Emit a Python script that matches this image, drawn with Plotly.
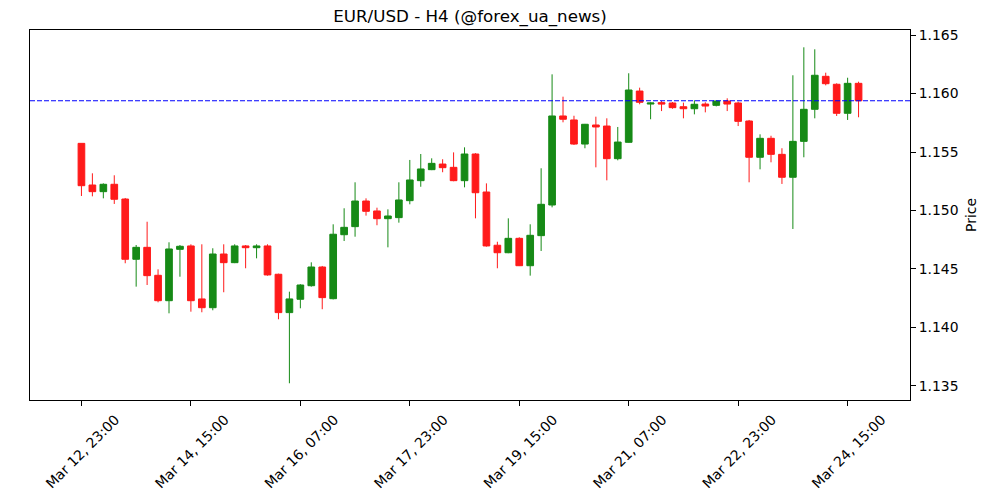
import pandas as pd
import plotly.graph_objects as go

title = "EUR/USD - H4 (@forex_ua_news)"
start_time = "2025-03-12 23:00"
n_candles = 72

open_ = [1.15574, 1.15218, 1.15161, 1.15224, 1.15098, 1.14583, 1.14685, 1.14446, 1.14229, 1.14668,
         1.14697, 1.14244, 1.14169, 1.14628, 1.14554, 1.14697, 1.14682, 1.14697, 1.14455, 1.14127,
         1.14241, 1.14357, 1.14517, 1.14246, 1.14793, 1.14862, 1.15081, 1.14996, 1.14930, 1.14939,
         1.15084, 1.15255, 1.15349, 1.15397, 1.15369, 1.15255, 1.15483, 1.15158, 1.14703, 1.14639,
         1.14762, 1.14528, 1.14785, 1.15047, 1.15808, 1.15774, 1.15568, 1.15731, 1.15722, 1.15443,
         1.15583, 1.16021, 1.15910, 1.15922, 1.15919, 1.15887, 1.15870, 1.15910, 1.15899, 1.15936,
         1.15919, 1.15765, 1.15455, 1.15617, 1.15480, 1.15284, 1.15591, 1.15865, 1.16147, 1.16079,
         1.15831, 1.16087]

high = [1.15574, 1.15318, 1.15232, 1.15301, 1.15107, 1.14705, 1.14904, 1.14497, 1.14728, 1.14705,
        1.14711, 1.14711, 1.14677, 1.14711, 1.14711, 1.14705, 1.14711, 1.14711, 1.14460, 1.14306,
        1.14370, 1.14557, 1.14526, 1.14882, 1.15019, 1.15241, 1.15104, 1.15024, 1.15010, 1.15241,
        1.15432, 1.15483, 1.15446, 1.15438, 1.15497, 1.15540, 1.15490, 1.15232, 1.14733, 1.14933,
        1.14771, 1.14882, 1.15361, 1.16164, 1.15973, 1.15810, 1.15740, 1.15802, 1.15788, 1.15714,
        1.16173, 1.16050, 1.15925, 1.15936, 1.15927, 1.15922, 1.15942, 1.15925, 1.15940, 1.15959,
        1.15930, 1.15774, 1.15651, 1.15639, 1.15532, 1.16156, 1.16395, 1.16378, 1.16178, 1.16087,
        1.16135, 1.16101]

low = [1.15124, 1.15121, 1.15104, 1.15056, 1.14549, 1.14349, 1.14363, 1.14215, 1.14121, 1.14434,
       1.14135, 1.14130, 1.14147, 1.14301, 1.14550, 1.14506, 1.14591, 1.14443, 1.14070, 1.13523,
       1.14164, 1.14349, 1.14156, 1.14240, 1.14739, 1.14776, 1.14956, 1.14874, 1.14685, 1.14896,
       1.15053, 1.15203, 1.15345, 1.15327, 1.15250, 1.15198, 1.14933, 1.14691, 1.14506, 1.14635,
       1.14525, 1.14443, 1.14654, 1.15027, 1.15754, 1.15560, 1.15532, 1.15369, 1.15258, 1.15429,
       1.15580, 1.15908, 1.15780, 1.15850, 1.15870, 1.15788, 1.15822, 1.15839, 1.15890, 1.15850,
       1.15722, 1.15241, 1.15352, 1.15412, 1.15227, 1.14842, 1.15455, 1.15788, 1.16070, 1.15808,
       1.15774, 1.15797]

close = [1.15212, 1.15161, 1.15224, 1.15096, 1.14583, 1.14685, 1.14443, 1.14229, 1.14671, 1.14694,
         1.14229, 1.14169, 1.14628, 1.14554, 1.14697, 1.14682, 1.14697, 1.14449, 1.14127, 1.14244,
         1.14363, 1.14517, 1.14255, 1.14797, 1.14856, 1.15081, 1.14993, 1.14930, 1.14953, 1.15090,
         1.15261, 1.15355, 1.15403, 1.15366, 1.15255, 1.15483, 1.15152, 1.14697, 1.14639, 1.14762,
         1.14528, 1.14788, 1.15053, 1.15808, 1.15780, 1.15568, 1.15737, 1.15714, 1.15443, 1.15585,
         1.16030, 1.15925, 1.15919, 1.15910, 1.15879, 1.15870, 1.15908, 1.15893, 1.15936, 1.15910,
         1.15762, 1.15455, 1.15617, 1.15480, 1.15284, 1.15591, 1.15865, 1.16156, 1.16084, 1.15831,
         1.16087, 1.15938]

tick_labels = ["Mar 12, 23:00", "Mar 14, 15:00", "Mar 16, 07:00", "Mar 17, 23:00",
               "Mar 19, 15:00", "Mar 21, 07:00", "Mar 22, 23:00", "Mar 24, 15:00"]
y_ticks = [1.135, 1.140, 1.145, 1.150, 1.155, 1.160, 1.165]

times = pd.date_range(start_time, periods=n_candles, freq="4h")
tick_vals = [times[i] for i in range(0, n_candles, 10)][:len(tick_labels)]

GREEN = "#168a16"
RED = "#ff1a1a"
FONT = "DejaVu Sans"

fig = go.Figure()
fig.add_trace(go.Candlestick(
    x=times, open=open_, high=high, low=low, close=close,
    increasing=dict(line=dict(color=GREEN, width=1), fillcolor=GREEN),
    decreasing=dict(line=dict(color=RED, width=1), fillcolor=RED),
    whiskerwidth=0,
    showlegend=False,
))

last_close = close[-1]
fig.add_shape(type="line", xref="paper", x0=0, x1=1, yref="y", y0=last_close, y1=last_close,
              line=dict(color="#0000ff", width=1.1, dash="5px,2px"))

x0 = times[0] - pd.Timedelta(hours=18.8)
x1 = times[0] + pd.Timedelta(hours=302.8)

fig.update_layout(
    width=1000, height=500,
    margin=dict(l=30, r=90, t=30, b=100, pad=0, autoexpand=False),
    paper_bgcolor="white", plot_bgcolor="white",
    font=dict(family=FONT, size=14, color="black"),
    title=dict(text=title, x=0.5, xref="paper", xanchor="center",
               y=1 - 16 / 500, yref="container", yanchor="middle",
               font=dict(family=FONT, size=16.7, color="black")),
    boxgap=0.39, boxgroupgap=0,
    xaxis=dict(
        type="date", range=[x0, x1], automargin=False,
        rangeslider=dict(visible=False),
        tickmode="array", tickvals=tick_vals, ticktext=tick_labels,
        tickangle=-45, ticklabelshift=34,
        ticks="outside", ticklen=5, tickwidth=1, tickcolor="black",
        showgrid=False, zeroline=False,
        showline=True, linecolor="black", linewidth=1, mirror=True,
        tickfont=dict(family=FONT, size=13.9, color="black"),
    ),
    yaxis=dict(
        side="right", range=[1.1338, 1.16543], automargin=False,
        tickmode="array", tickvals=y_ticks, tickformat=".3f",
        ticks="outside", ticklen=5, tickwidth=1, tickcolor="black",
        showgrid=False, zeroline=False,
        showline=True, linecolor="black", linewidth=1, mirror=True,
        tickfont=dict(family=FONT, size=13.9, color="black"),
        title=dict(text="Price", standoff=8, font=dict(family=FONT, size=13.9, color="black")),
    ),
)

fig.write_html("out.html")
